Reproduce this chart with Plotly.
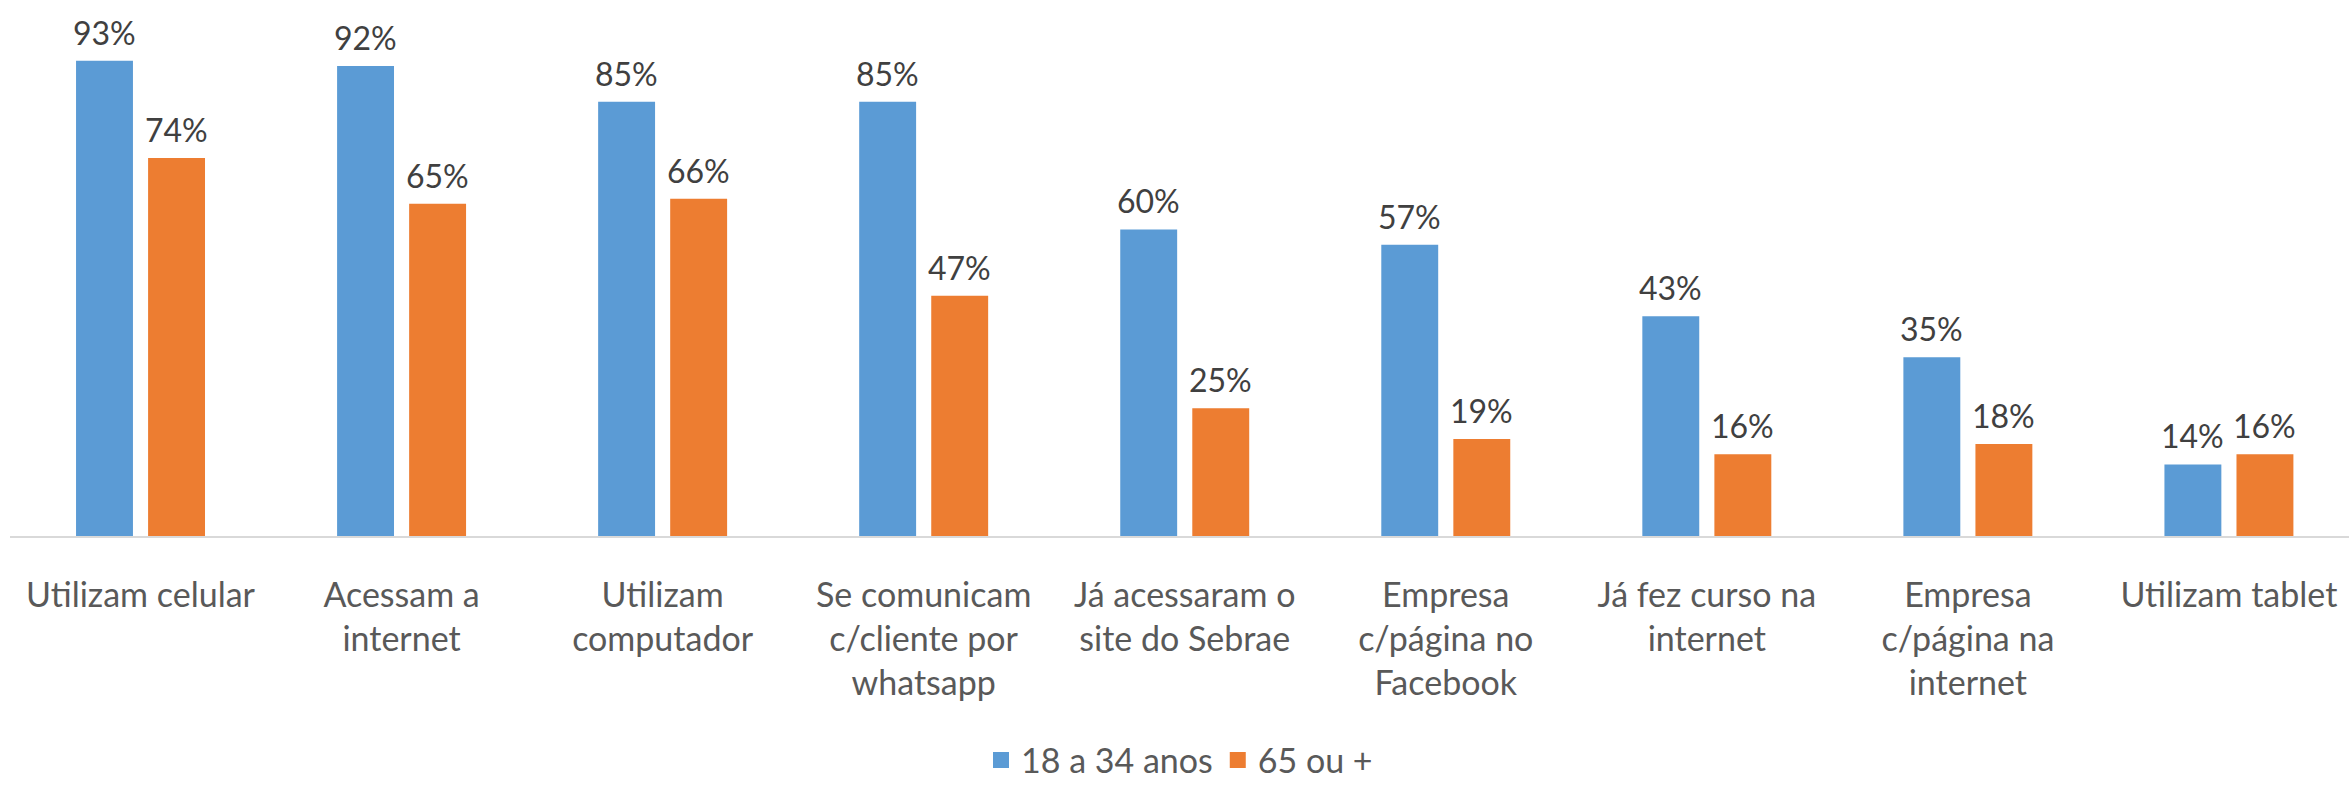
import plotly.graph_objects as go

categorias = [
    "Utilizam celular",
    "Acessam a<br>internet",
    "Utilizam<br>computador",
    "Se comunicam<br>c/cliente por<br>whatsapp",
    "Já acessaram o<br>site do Sebrae",
    "Empresa<br>c/página no<br>Facebook",
    "Já fez curso na<br>internet",
    "Empresa<br>c/página na<br>internet",
    "Utilizam tablet",
]
jovens = [93, 92, 85, 85, 60, 57, 43, 35, 14]
idosos = [74, 65, 66, 47, 25, 19, 16, 18, 16]
series = [("18 a 34 anos", jovens, "#5B9BD5"), ("65 ou +", idosos, "#ED7D31")]

FONTE = "Lato"

fig = go.Figure()
for nome, valores, cor in series:
    fig.add_trace(go.Bar(x=categorias, y=valores, name=nome, showlegend=False,
                         marker=dict(color=cor, line=dict(width=0))))
# entradas de legenda com quadrado maior (como no Excel)
for nome, valores, cor in series:
    fig.add_trace(go.Scatter(x=[None], y=[None], mode="markers", name=nome,
                             marker=dict(symbol="square", size=16, color=cor)))

# rótulos de valor acima das barras
for n, (nome, valores, cor) in enumerate(series):
    desloc = -36 if n == 0 else 36
    for cat, v in zip(categorias, valores):
        fig.add_annotation(x=cat, y=v, text=f"{v}%", showarrow=False,
                           xref="x", yref="y", yanchor="bottom", xshift=desloc, yshift=7,
                           font=dict(family=FONTE, size=32, color="#404040"))

fig.update_layout(
    width=2349, height=788,
    margin=dict(l=10, r=0, t=0, b=252),
    plot_bgcolor="white", paper_bgcolor="white",
    barmode="group", bargap=0.448, bargroupgap=0.21,
    font=dict(family=FONTE, size=34, color="#595959"),
    showlegend=True,
    legend=dict(orientation="h", x=0.5, xanchor="center",
                yref="container", y=0.035, yanchor="middle",
                font=dict(family=FONTE, size=34, color="#595959"),
                itemwidth=30, tracegroupgap=0),
    xaxis=dict(range=[-0.5, 8.46], showline=True, linecolor="#D9D9D9", linewidth=2,
               ticks="", ticklabelstandoff=28, tickfont=dict(size=34, color="#595959")),
    yaxis=dict(range=[0, 104.9], visible=False, showgrid=False, zeroline=False),
)

fig.write_html("out.html", config={"displayModeBar": False},
               post_script="document.body.style.margin='0';")
